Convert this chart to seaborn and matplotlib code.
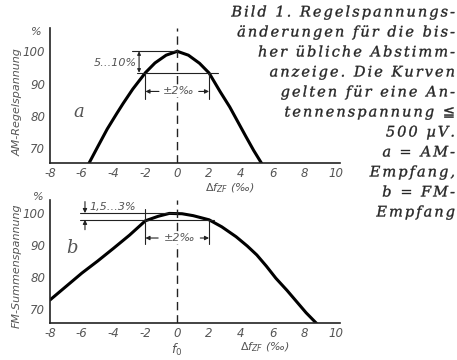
import matplotlib
matplotlib.use("Agg")
import matplotlib.pyplot as plt
import seaborn as sns
import pandas as pd
from matplotlib.font_manager import FontProperties
from matplotlib.textpath import TextToPath, TextPath
from matplotlib.patches import PathPatch
from matplotlib.transforms import IdentityTransform

# AM control voltage versus IF detuning (per mille), in % of maximum
am_detune = [-5.55, -5.0, -4.4, -3.8, -3.4, -2.8, -2.0, -1.4, -0.7, 0.0,
             0.7, 1.4, 2.0, 2.7, 3.3, 3.8, 4.3, 4.8, 5.3]
am_level = [65.4, 70.5, 76.0, 80.8, 83.9, 88.3, 93.4, 96.4, 98.8, 100.0,
            98.8, 96.3, 93.3, 87.5, 82.8, 78.3, 73.8, 69.4, 65.4]

# FM sum voltage versus IF detuning (per mille), in % of maximum
fm_detune = [-8.0, -7.0, -6.0, -5.0, -4.0, -3.0, -2.0, -1.2, -0.5, 0.3,
             1.0, 2.0, 2.8, 3.7, 4.4, 5.0, 5.6, 6.2, 6.9, 7.5, 8.1, 8.75]
fm_level = [72.8, 77.0, 81.2, 85.0, 89.0, 93.1, 97.6, 99.0, 99.9, 99.8,
            99.2, 97.9, 95.7, 92.6, 89.7, 86.9, 83.4, 79.6, 75.8, 72.3, 68.8, 65.5]

x_ticks = [-8, -6, -4, -2, 0, 2, 4, 6, 8, 10]
y_ticks = [70, 80, 90, 100]

caption_lines = [
    "Bild 1. Regelspannungs-",
    "änderungen für die bis-",
    "her übliche Abstimm-",
    "anzeige. Die Kurven",
    "gelten für eine An-",
    "tennenspannung ≦",
    "500 µV.",
    "a = AM-",
    "Empfang,",
    "b = FM-",
    "Empfang",
]

sns.set_style("white")
plt.rcParams["font.family"] = ["DejaVu Sans"]
plt.rcParams["mathtext.fontset"] = "dejavusans"

W, H = 457, 360
fig = plt.figure(figsize=(W / 100, H / 100), dpi=100)
fig.patch.set_facecolor("white")

ink = "#222222"
grey = "#555555"


def px_axes(left, top, right, bottom):
    return fig.add_axes([left / W, 1 - bottom / H, (right - left) / W, (bottom - top) / H])


ax_am = px_axes(49.5, 28, 340, 163.3)
ax_fm = px_axes(49.5, 200, 340, 323.3)

am_df = pd.DataFrame({"detune": am_detune, "level": am_level})
fm_df = pd.DataFrame({"detune": fm_detune, "level": fm_level})

sns.lineplot(data=am_df, x="detune", y="level", ax=ax_am, color="black",
             lw=2.2, sort=False, estimator=None)
sns.lineplot(data=fm_df, x="detune", y="level", ax=ax_fm, color="black",
             lw=2.2, sort=False, estimator=None)

ax_am.set_ylim(65.4, 107.2)
ax_fm.set_ylim(65.5, 104.1)

for ax in (ax_am, ax_fm):
    ax.set_facecolor("white")
    ax.set_xlim(-8.03, 10.23)
    ax.set_xticks(x_ticks)
    ax.set_yticks(y_ticks)
    ax.set_xticklabels([str(v) for v in x_ticks], fontstyle="italic",
                       fontsize=8.5, color=grey)
    ax.set_yticklabels([str(v) for v in y_ticks], fontstyle="italic",
                       fontsize=8.5, color=grey)
    ax.tick_params(direction="in", length=3.5, width=0.8, color=ink, pad=3)
    for s in ("top", "right"):
        ax.spines[s].set_visible(False)
    for s in ("left", "bottom"):
        ax.spines[s].set_color(ink)
        ax.spines[s].set_linewidth(1.2)
    ax.set_xlabel("")
    ax.set_ylabel("")
    ax.axvline(0, color=ink, lw=1.0, ls=(0, (6, 3.5)))

thin = dict(color=ink, lw=0.8)
arrow = dict(arrowstyle="-|>", color=ink, lw=0.8, mutation_scale=6,
             shrinkA=0, shrinkB=0)
note = dict(fontstyle="italic", fontsize=8, color=grey)

# --- AM panel annotations
ax_am.plot([-2.85, 0], [100, 100], **thin)
ax_am.plot([-2.55, 2.55], [93.4, 93.4], **thin)
ax_am.annotate("", xy=(-2.4, 100), xytext=(-2.4, 93.4),
               arrowprops=dict(arrowstyle="<|-|>", color=ink, lw=0.8,
                               mutation_scale=5, shrinkA=0, shrinkB=0))
ax_am.text(-2.55, 96.3, "5…10%", ha="right", va="center", **note)
ax_am.plot([-2, -2], [93.4, 85.4], **thin)
ax_am.plot([2, 2], [93.3, 85.4], **thin)
ax_am.annotate("", xy=(-2, 87.6), xytext=(-1.15, 87.6), arrowprops=arrow)
ax_am.annotate("", xy=(2, 87.6), xytext=(1.35, 87.6), arrowprops=arrow)
ax_am.text(0.1, 87.6, "±2‰", ha="center", va="center",
           bbox=dict(fc="white", ec="none", pad=0.5), **note)
ax_am.text(-6.2, 81.3, "a", ha="center", va="center", fontstyle="italic",
           fontsize=13, color=grey, family="DejaVu Serif")

# --- FM panel annotations
ax_fm.plot([-6.1, 0], [100, 100], **thin)
ax_fm.plot([-6.1, 2.3], [97.9, 97.9], **thin)
ax_fm.annotate("", xy=(-5.8, 100), xytext=(-5.8, 103.6), arrowprops=arrow)
ax_fm.annotate("", xy=(-5.8, 97.9), xytext=(-5.8, 94.8), arrowprops=arrow)
ax_fm.text(-5.5, 101.9, "1,5…3%", ha="left", va="center", **note)
ax_fm.plot([-2, -2], [101.2, 90.2], **thin)
ax_fm.plot([2, 2], [97.9, 90.2], **thin)
ax_fm.annotate("", xy=(-2, 92.2), xytext=(-1.2, 92.2), arrowprops=arrow)
ax_fm.annotate("", xy=(2, 92.2), xytext=(1.45, 92.2), arrowprops=arrow)
ax_fm.text(0.15, 92.2, "±2‰", ha="center", va="center",
           bbox=dict(fc="white", ec="none", pad=0.5), **note)
ax_fm.text(-6.6, 89.0, "b", ha="center", va="center", fontstyle="italic",
           fontsize=13, color=grey, family="DejaVu Serif")

# --- axis titles
lab = dict(fontstyle="italic", fontsize=8, color=grey)
fig.text(18 / W, 1 - 102 / H, "AM-Regelspannung", rotation=90,
         ha="center", va="center", **lab)
fig.text(17 / W, 1 - 266 / H, "FM-Summenspannung", rotation=90,
         ha="center", va="center", **lab)
fig.text(36 / W, 1 - 32 / H, "%", ha="center", va="center", **lab)
fig.text(38 / W, 1 - 197 / H, "%", ha="center", va="center", **lab)
fig.text(230 / W, 1 - 188 / H, r"$\Delta f_{ZF}$ (‰)", ha="center",
         va="center", **lab)
fig.text(265 / W, 1 - 347 / H, r"$\Delta f_{ZF}$ (‰)", ha="center",
         va="center", **lab)
fig.text(177 / W, 1 - 350 / H, r"$f_0$", ha="center", va="center",
         fontsize=9, color=grey)

# --- caption block at the upper right, set glyph by glyph with extra tracking
cap_size = 10.5                      # points
cap_size_px = cap_size * 100 / 72
cap_track = 2.0                      # extra px between letters
cap_prop = FontProperties(family=["DejaVu Serif", "DejaVu Sans"],
                          style="italic", size=cap_size)
_ttp = TextToPath()


def advance_px(ch):
    w_with, _, _ = _ttp.get_text_width_height_descent("|" + ch + "|", cap_prop, ismath=False)
    w_base, _, _ = _ttp.get_text_width_height_descent("||", cap_prop, ismath=False)
    return (w_with - w_base) * 100 / 72


def tracked_line(text, right_px, baseline_px):
    advs = [advance_px(c) for c in text]
    total = sum(advs) + cap_track * (len(text) - 1)
    x = right_px - total
    for c, a in zip(text, advs):
        if c != " ":
            glyph = TextPath((x, H - baseline_px), c, size=cap_size_px, prop=cap_prop)
            fig.add_artist(PathPatch(glyph, transform=IdentityTransform(),
                                     fc="#262626", ec="#262626", lw=0.25))
        x += a + cap_track


for i, line in enumerate(caption_lines):
    tracked_line(line, 455, 16.5 + i * 20)

fig.savefig("out.png", dpi=100, facecolor="white")
